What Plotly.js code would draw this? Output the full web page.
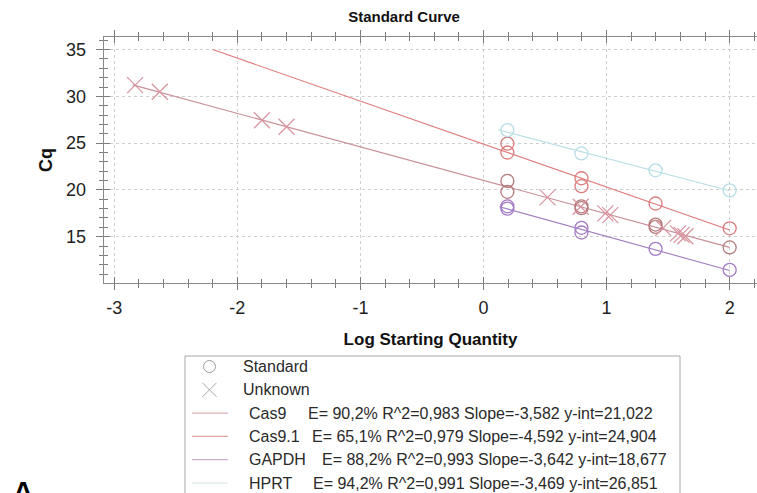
<!DOCTYPE html>
<html>
<head>
<meta charset="utf-8">
<script src="https://cdn.plot.ly/plotly-3.0.1.min.js"></script>
<style>
  html, body { margin: 0; padding: 0; background: #ffffff; }
  #chart { width: 757px; height: 493px; }
</style>
</head>
<body>
<div id="chart"></div>
<script>
// ---- Standards (log starting quantity vs Cq) ----
const cas9StdX   = [0.194, 0.194, 0.796, 0.796, 1.398, 1.398, 2.0];
const cas9StdCq  = [20.96, 19.8, 18.25, 18.05, 16.3, 16.05, 13.85];
const cas91StdX  = [0.194, 0.194, 0.796, 0.796, 1.398, 2.0];
const cas91StdCq = [24.95, 24.0, 21.25, 20.4, 18.55, 15.9];
const gapdhStdX  = [0.194, 0.194, 0.796, 0.796, 1.398, 2.0];
const gapdhStdCq = [18.25, 18.0, 15.95, 15.45, 13.7, 11.45];
const hprtStdX   = [0.194, 0.796, 1.398, 2.0];
const hprtStdCq  = [26.4, 23.9, 22.1, 19.95];

// ---- Unknown samples ----
const unknownX  = [-2.83, -2.63, -1.80, -1.60, 0.52, 0.79, 0.99, 1.03, 1.46, 1.58, 1.61, 1.64];
const unknownCq = [31.2, 30.5, 27.45, 26.75, 19.2, 18.2, 17.5, 17.3, 15.95, 15.35, 15.2, 15.05];

// ---- Fitted standard curves ----
const fitNames   = ['Cas9', 'Cas9.1', 'GAPDH', 'HPRT'];
const fitEff     = [90.2, 65.1, 88.2, 94.2];
const fitR2      = [0.983, 0.979, 0.993, 0.991];
const fitSlope   = [-3.582, -4.592, -3.642, -3.469];
const fitYint    = [21.022, 24.904, 18.677, 26.851];
const fitXStart  = [-2.85, -2.2, 0.13, 0.12];
const fitXEnd    = [2.0, 2.0, 2.0, 2.0];

// ---- Axis ticks ----
const xTickVals = [-3, -2, -1, 0, 1, 2];
const xTickText = ['-3', '-2', '-1', '0', '1', '2'];
const yTickVals = [15, 20, 25, 30, 35];
const yTickText = ['15', '20', '25', '30', '35'];

const FONT = '"Liberation Sans", Arial, sans-serif';
const lineColors   = ['#c98e98', '#de7a7a', '#9f7cbf', '#b9dfe6'];
const circleColors = ['#b57a7c', '#dc7c7c', '#a47ac4', '#b6dde6'];
const legendLineColors = ['#d9b3b6', '#e3a4a4', '#cdb0cd', '#d6e6e8'];
const unknownColor = '#d8939e';

const W = 757, H = 493;
const M = { l: 104, r: 0, t: 37, b: 210 };
const plotW = W - M.l - M.r, plotH = H - M.t - M.b;
const xp = px => (px - M.l) / plotW;          // pixel -> paper x
const yp = py => (H - M.b - py) / plotH;      // pixel -> paper y

const xRange = [-3.083, 2.222];
const yRange = [10.05, 36.35];

const traces = [];

// regression lines
fitNames.forEach((name, i) => {
  const xs = [fitXStart[i], fitXEnd[i]];
  traces.push({
    type: 'scatter', mode: 'lines', x: xs,
    y: xs.map(x => fitYint[i] + fitSlope[i] * x),
    line: { color: lineColors[i], width: 1.1 },
    hoverinfo: 'skip', showlegend: false
  });
});

// standards
const stdSets = [
  [cas9StdX, cas9StdCq], [cas91StdX, cas91StdCq],
  [gapdhStdX, gapdhStdCq], [hprtStdX, hprtStdCq]
];
stdSets.forEach(([xs, ys], i) => {
  traces.push({
    type: 'scatter', mode: 'markers', x: xs, y: ys,
    marker: { symbol: 'circle-open', size: 13, color: circleColors[i],
              line: { width: 1.3, color: circleColors[i] } },
    showlegend: false
  });
});

// unknowns
traces.push({
  type: 'scatter', mode: 'markers', x: unknownX, y: unknownCq,
  marker: { symbol: 'x-thin', size: 16, color: unknownColor,
            line: { width: 1.2, color: unknownColor } },
  showlegend: false
});

// carrier for the inner tick marks
traces.push({ type: 'scatter', x: [], y: [], xaxis: 'x2', yaxis: 'y2',
              hoverinfo: 'skip', showlegend: false });

const axisLine = '#8a8a8a';
const tickCol = '#7c7c7c';

// ---- legend box below the plot ----
const rowY = [366.5, 389.8, 413.1, 436.4, 459.7, 483.0];
const shapes = [
  { type: 'rect', xref: 'paper', yref: 'paper',
    x0: xp(185), x1: xp(680), y0: yp(356), y1: yp(505),
    line: { color: '#a8a8a8', width: 1 }, fillcolor: '#ffffff', layer: 'below' },
  { type: 'circle', xref: 'paper', yref: 'paper',
    xsizemode: 'pixel', ysizemode: 'pixel',
    xanchor: xp(209.5), yanchor: yp(rowY[0]), x0: -6, x1: 6, y0: -6, y1: 6,
    line: { color: '#9c9c9c', width: 1 } },
  { type: 'path', xref: 'paper', yref: 'paper',
    xsizemode: 'pixel', ysizemode: 'pixel',
    xanchor: xp(209.5), yanchor: yp(rowY[1]),
    path: 'M -7 -7 L 7 7 M -7 7 L 7 -7',
    line: { color: '#a6a6a6', width: 1 } }
];
fitNames.forEach((n, i) => {
  shapes.push({ type: 'line', xref: 'paper', yref: 'paper',
    x0: xp(192), x1: xp(228), y0: yp(rowY[i + 2]), y1: yp(rowY[i + 2]),
    line: { color: legendLineColors[i], width: 1.2 } });
});

const fmt = (v, d) => v.toFixed(d).replace('.', ',');
const statX = [307.7, 312.3, 322.3, 313.3];
const legendFont = { family: FONT, size: 16, color: '#2a2a2a' };
const annotations = [
  { xref: 'paper', yref: 'paper', x: xp(241), y: yp(rowY[0]), xanchor: 'left',
    yanchor: 'middle', text: 'Standard', showarrow: false, font: legendFont },
  { xref: 'paper', yref: 'paper', x: xp(241), y: yp(rowY[1]), xanchor: 'left',
    yanchor: 'middle', text: 'Unknown', showarrow: false, font: legendFont }
];
fitNames.forEach((n, i) => {
  annotations.push({ xref: 'paper', yref: 'paper', x: xp(246.5), y: yp(rowY[i + 2]),
    xanchor: 'left', yanchor: 'middle', text: n, showarrow: false, font: legendFont });
  annotations.push({ xref: 'paper', yref: 'paper', x: xp(statX[i] - 2), y: yp(rowY[i + 2]),
    xanchor: 'left', yanchor: 'middle', showarrow: false, font: legendFont,
    text: 'E= ' + fmt(fitEff[i], 1) + '% R^2=' + fmt(fitR2[i], 3) +
          ' Slope=' + fmt(fitSlope[i], 3) + ' y-int=' + fmt(fitYint[i], 3) });
});
// panel letter
annotations.push({ xref: 'paper', yref: 'paper', x: xp(23), y: yp(474),
  xanchor: 'center', yanchor: 'top', text: '<b>A</b>', showarrow: false,
  font: { family: FONT, size: 28, color: '#000000' } });

const layout = {
  width: W, height: H,
  margin: M,
  paper_bgcolor: '#ffffff', plot_bgcolor: '#ffffff',
  showlegend: false,
  font: { family: FONT, color: '#1e1e1e' },
  title: { text: 'Standard Curve', x: 404 / W, xanchor: 'center',
           y: 1 - 17 / H, yanchor: 'middle',
           font: { family: FONT, size: 15, weight: 'bold', color: '#111111' } },
  xaxis: {
    range: xRange, type: 'linear', tickmode: 'array', tickvals: xTickVals, ticktext: xTickText,
    ticks: 'outside', ticklen: 6, tickwidth: 1, tickcolor: tickCol,
    showline: true, linecolor: axisLine, linewidth: 1.3, mirror: 'ticks',
    showgrid: true, gridcolor: '#cfcfcf', griddash: 'dot', gridwidth: 1,
    zeroline: false,
    minor: { dtick: 0.2, tick0: 0, ticks: 'outside', ticklen: 4, tickcolor: tickCol, showgrid: false },
    tickfont: { family: FONT, size: 18, color: '#1e1e1e' },
    ticklabelstandoff: 2,
    title: { text: 'Log Starting Quantity', standoff: 16,
             font: { family: FONT, size: 17, weight: 'bold', color: '#111111' } }
  },
  yaxis: {
    range: yRange, type: 'linear', tickmode: 'array', tickvals: yTickVals, ticktext: yTickText,
    ticks: 'outside', ticklen: 7, tickwidth: 1, tickcolor: tickCol,
    showline: true, linecolor: axisLine, linewidth: 1.3, mirror: false,
    showgrid: true, gridcolor: '#cfcfcf', griddash: 'dot', gridwidth: 1,
    zeroline: false,
    minor: { dtick: 1, tick0: 0, ticks: 'outside', ticklen: 4, tickcolor: tickCol, showgrid: false },
    tickfont: { family: FONT, size: 18, color: '#1e1e1e' },
    ticklabelstandoff: 6,
    title: { text: 'Cq', standoff: 8,
             font: { family: FONT, size: 18, weight: 'bold', color: '#111111' } }
  },
  // inner halves of the crossing tick marks
  xaxis2: {
    overlaying: 'x', range: xRange, type: 'linear', tickmode: 'array', tickvals: xTickVals,
    ticks: 'inside', ticklen: 6, tickwidth: 1, tickcolor: tickCol,
    showticklabels: false, showgrid: false, zeroline: false, showline: false, mirror: 'ticks',
    minor: { dtick: 0.2, tick0: 0, ticks: 'inside', ticklen: 4, tickcolor: tickCol, showgrid: false }
  },
  yaxis2: {
    overlaying: 'y', range: yRange, type: 'linear', tickmode: 'array', tickvals: yTickVals,
    ticks: 'inside', ticklen: 6, tickwidth: 1, tickcolor: tickCol,
    showticklabels: false, showgrid: false, zeroline: false, showline: false,
    minor: { dtick: 1, tick0: 0, ticks: 'inside', ticklen: 4, tickcolor: tickCol, showgrid: false }
  },
  shapes: shapes,
  annotations: annotations
};

Plotly.newPlot('chart', traces, layout, { staticPlot: true, displayModeBar: false });
</script>
</body>
</html>
